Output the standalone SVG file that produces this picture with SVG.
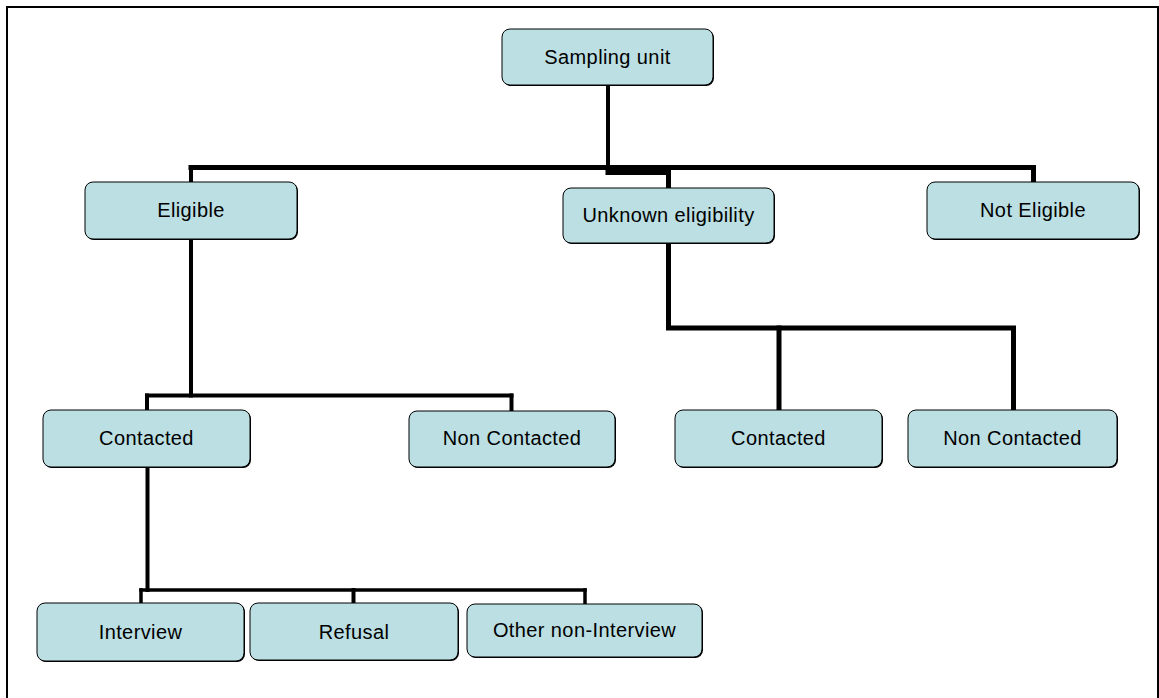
<svg xmlns="http://www.w3.org/2000/svg" width="1159" height="698" viewBox="0 0 1159 698">
  <style>
    .frame { fill: none; stroke: #000; stroke-width: 2; }
    .shadow { fill: #000; }
    .box { fill: #bbdfe2; stroke: #000; stroke-width: 1; }
    .label { font-family: "Liberation Sans", Arial, sans-serif; font-size: 20px; letter-spacing: 0.4px; fill: #000; text-anchor: middle; }
    .wire { fill: none; stroke: #000; stroke-linejoin: miter; stroke-linecap: square; }
    .w5 { stroke-width: 5; }
    .w4 { stroke-width: 4; }
    .w3 { stroke-width: 3.5; }
  </style>
  <defs>
    <rect id="b207" width="207" height="57" rx="8" ry="8"/>
  </defs>

  <rect width="1159" height="698" fill="#fff"/>
  <path class="frame" d="M7,700 V7 H1158 V700"/>

  <!-- connectors -->
  <g id="connectors">
    <!-- root to level 1 -->
    <path class="wire w4" d="M608,86 V168"/>
    <path class="wire w5" d="M191,167.5 H1033.5"/>
    <path class="wire w4" d="M191,168 V182"/>
    <path class="wire w5" d="M1033.5,168 V182"/>
    <path class="wire w5" d="M608,172.5 H668.5 V188"/>
    <!-- Eligible branch -->
    <path class="wire w4" d="M191,239 V395.5"/>
    <path class="wire w4" d="M147,395.5 H511.5"/>
    <path class="wire w4" d="M147,395.5 V410"/>
    <path class="wire w4" d="M511.5,395.5 V411"/>
    <!-- Unknown eligibility branch -->
    <path class="wire w5" d="M668.5,243 V328 H1013.5 V410"/>
    <path class="wire w5" d="M779,328 V410"/>
    <!-- Contacted branch -->
    <path class="wire w4" d="M147.5,467 V590"/>
    <path class="wire w3" d="M141,590 H585"/>
    <path class="wire w3" d="M141,590 V603"/>
    <path class="wire w4" d="M353.5,590 V603"/>
    <path class="wire w3" d="M585,590 V604"/>
  </g>

  <g id="sampling-unit">
    <rect class="shadow" x="503" y="30" width="211" height="56" rx="8"/>
    <rect class="box" x="502" y="29" width="211" height="56" rx="8"/>
    <text class="label" x="607.5" y="64">Sampling unit</text>
  </g>

  <g id="eligible">
    <rect class="shadow" x="86" y="183" width="212" height="57" rx="8"/>
    <rect class="box" x="85" y="182" width="212" height="57" rx="8"/>
    <text class="label" x="191" y="217">Eligible</text>
  </g>

  <g id="unknown-eligibility">
    <rect class="shadow" x="564" y="189" width="211" height="55" rx="8"/>
    <rect class="box" x="563" y="188" width="211" height="55" rx="8"/>
    <text class="label" x="668.5" y="222">Unknown eligibility</text>
  </g>

  <g id="not-eligible">
    <rect class="shadow" x="928" y="183" width="212" height="57" rx="8"/>
    <rect class="box" x="927" y="182" width="212" height="57" rx="8"/>
    <text class="label" x="1033" y="217">Not Eligible</text>
  </g>

  <g id="eligible-contacted">
    <rect class="shadow" x="44" y="411" width="207" height="57" rx="8"/>
    <rect class="box" x="43" y="410" width="207" height="57" rx="8"/>
    <text class="label" x="146.5" y="445">Contacted</text>
  </g>

  <g id="eligible-non-contacted">
    <rect class="shadow" x="410" y="412" width="206" height="56" rx="8"/>
    <rect class="box" x="409" y="411" width="206" height="56" rx="8"/>
    <text class="label" x="512" y="445">Non Contacted</text>
  </g>

  <g id="unknown-contacted">
    <rect class="shadow" x="676" y="411" width="207" height="57" rx="8"/>
    <rect class="box" x="675" y="410" width="207" height="57" rx="8"/>
    <text class="label" x="778.5" y="445">Contacted</text>
  </g>

  <g id="unknown-non-contacted">
    <rect class="shadow" x="909" y="411" width="209" height="57" rx="8"/>
    <rect class="box" x="908" y="410" width="209" height="57" rx="8"/>
    <text class="label" x="1012.5" y="445">Non Contacted</text>
  </g>

  <g id="interview">
    <rect class="shadow" x="38" y="604" width="207" height="58" rx="8"/>
    <rect class="box" x="37" y="603" width="207" height="58" rx="8"/>
    <text class="label" x="140.5" y="639">Interview</text>
  </g>

  <g id="refusal">
    <rect class="shadow" x="251" y="604" width="208" height="57" rx="8"/>
    <rect class="box" x="250" y="603" width="208" height="57" rx="8"/>
    <text class="label" x="354" y="639">Refusal</text>
  </g>

  <g id="other-non-interview">
    <rect class="shadow" x="468" y="605" width="235" height="53" rx="8"/>
    <rect class="box" x="467" y="604" width="235" height="53" rx="8"/>
    <text class="label" x="584.5" y="637">Other non-Interview</text>
  </g>
</svg>
